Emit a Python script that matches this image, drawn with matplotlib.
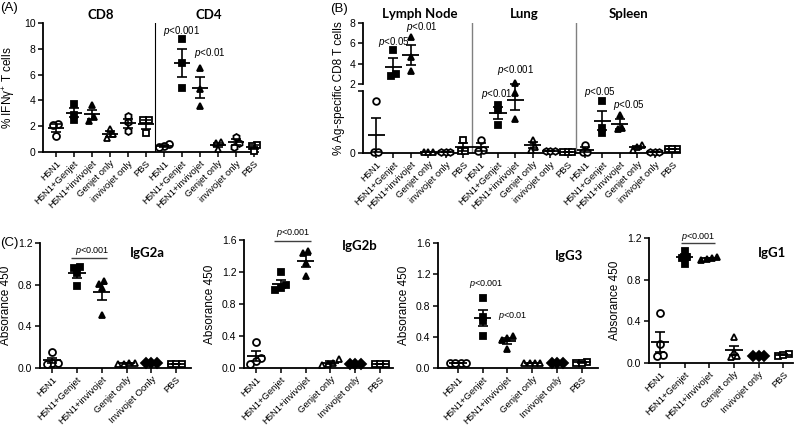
import numpy as np
import matplotlib
matplotlib.use("Agg")
import matplotlib.pyplot as plt

plt.rcParams['font.family'] = ['Liberation Sans', 'DejaVu Sans']
plt.rcParams['mathtext.fontset'] = 'custom'
plt.rcParams['mathtext.rm'] = 'Liberation Sans'
plt.rcParams['mathtext.it'] = 'Liberation Sans:italic'

# ---- data ----
groups = ["H5N1", "H5N1+Genjet", "H5N1+invivojet", "Genjet only", "invivojet only", "PBS"]

# (A) % IFNg+ T cells
cd8 = [[2.2, 2.1, 1.25], [3.75, 2.9, 2.5], [3.65, 2.7, 2.4],
       [1.75, 1.4, 1.05], [2.8, 2.3, 1.6], [2.5, 2.45, 1.45]]
cd4 = [[0.6, 0.45, 0.35], [8.76, 6.9, 4.96], [6.5, 4.9, 3.6],
       [0.75, 0.7, 0.25], [1.2, 0.7, 0.4], [0.55, 0.5, 0.1]]

# (B) % Ag-specific CD8 T cells (broken axis, break at 2)
lymph = [[1.68, 0.02, 0.02], [5.34, 2.81, 2.95], [6.6, 4.7, 3.25],
         [0.02, 0.02, 0.02], [0.03, 0.03, 0.03], [0.43, 0.08, 0.08]]
lung = [[0.43, 0.1, 0.05], [1.55, 1.39, 0.91], [2.1, 1.94, 1.1],
        [0.43, 0.2, 0.1], [0.05, 0.05, 0.05], [0.03, 0.03, 0.03]]
spleen = [[0.27, 0.02, 0.02], [1.67, 0.81, 0.65], [1.24, 0.8, 0.78],
          [0.27, 0.19, 0.1], [0.02, 0.02, 0.02], [0.13, 0.12, 0.12]]

# (C) absorbance 450
igg2a = [[0.15, 0.05, 0.05, 0.04], [0.97, 0.96, 0.91, 0.79], [0.84, 0.81, 0.77, 0.51],
         [0.05, 0.045, 0.04, 0.04], [0.045, 0.045, 0.045], [0.04, 0.04, 0.04]]
igg2b = [[0.32, 0.13, 0.09, 0.05], [1.2, 1.04, 1.0, 0.97], [1.46, 1.44, 1.31, 1.15],
         [0.11, 0.065, 0.05, 0.04], [0.05, 0.05, 0.05], [0.05, 0.05, 0.05]]
igg3 = [[0.07, 0.06, 0.07, 0.06], [0.9, 0.65, 0.6, 0.41], [0.41, 0.385, 0.36, 0.24],
        [0.07, 0.065, 0.07, 0.06], [0.065, 0.065, 0.065], [0.08, 0.07, 0.07]]
igg1 = [[0.48, 0.18, 0.075, 0.07], [1.08, 1.02, 1.01, 0.955], [1.01, 1.0, 1.02, 0.99],
        [0.25, 0.11, 0.07, 0.06], [0.07, 0.07, 0.07], [0.09, 0.07, 0.08]]

labels_2a = ["H5N1", "H5N1+Genjet", "H5N1+invivojet", "Genjet only", "Invivojet Oonly", "PBS"]
labels_c = ["H5N1", "H5N1+Genjet", "H5N1+invivojet", "Genjet only", "Invivojet only", "PBS"]

markers_ab = ['o', 's', '^', '^', 'h', 's']
filled_ab = [False, True, True, False, False, False]
markers_c = ['o', 's', '^', '^', 'D', 's']
filled_c = [False, True, True, False, True, False]


def rect(l, t, r, b):
    return [l / 797, 1 - b / 430, (r - l) / 797, (b - t) / 430]


def style(ax):
    for s in ['top', 'right']:
        ax.spines[s].set_visible(False)
    for s in ['left', 'bottom']:
        ax.spines[s].set_linewidth(1.3)
    ax.tick_params(width=1.1, length=3.5, labelsize=7.5, direction='out', pad=2)
    ax.tick_params(axis='x', labelsize=6.8, pad=1.5)


def spread(vals, tol, step):
    # push apart points that would sit on top of each other
    order = np.argsort(vals)
    offs = np.zeros(len(vals))
    clusters = []
    for i in order:
        if clusters and vals[i] - vals[clusters[-1][-1]] < tol:
            clusters[-1].append(i)
        else:
            clusters.append([i])
    for c in clusters:
        k = len(c)
        offs[c] = (np.arange(k) - (k - 1) / 2) * step
    return offs


def plot_group(ax, x, vals, marker, filled, half, tol, step, tf=None, ms=5):
    vals = np.asarray(vals, float)
    yy = tf(vals) if tf else vals
    offs = spread(yy, tol, step)
    ax.plot(x + offs, vals, ls='none', marker=marker, ms=ms,
            mfc='k' if filled else 'white', mec='k', mew=1.3,
            clip_on=False, zorder=3)
    m = vals.mean()
    s = vals.std(ddof=1) / np.sqrt(len(vals))
    ax.hlines(m, x - half, x + half, color='k', lw=1.3, zorder=4)
    ax.errorbar(x, m, yerr=s, fmt='none', ecolor='k', elinewidth=1.2,
                capsize=3.5, capthick=1.2, zorder=4)


def ptext(ax, x, y, s):
    ax.text(x, y, "$p$" + s, ha='center', va='center', fontsize=7)


fig = plt.figure(figsize=(7.97, 4.30), dpi=100)

# ---------------- (A) ----------------
axA = fig.add_axes(rect(43, 23, 258, 152))
style(axA)
for i, vals in enumerate(cd8 + cd4):
    plot_group(axA, i, vals, markers_ab[i % 6], filled_ab[i % 6], 0.46, 0.35, 0.28)
axA.axvline(5.5, color='k', lw=0.8)
axA.set_xlim(-0.72, 11.22)
axA.set_ylim(0, 10)
axA.set_yticks([0, 2, 4, 6, 8, 10])
axA.set_xticks(range(12))
axA.set_xticklabels(groups * 2, rotation=45, ha='right', rotation_mode='anchor')
axA.set_ylabel("% IFNγ$^{+}$ T cells", fontsize=8.5, labelpad=5)
axA.text(2.5, 10.6, "CD8", ha='center', va='center', fontsize=9.5,
         fontweight='bold', family='Lato')
axA.text(8.5, 10.6, "CD4", ha='center', va='center', fontsize=9.5,
         fontweight='bold', family='Lato')
ptext(axA, 7, 9.4, "<0.001")
ptext(axA, 8.55, 7.65, "<0.01")

# ---------------- (B) ----------------
LOW, GAP, UP = 31.0, 7.0, 10.17


def fwd(v):
    v = np.asarray(v, float)
    return np.where(v < 2, v * LOW, 2 * LOW + GAP + (v - 2) * UP)


def inv(y):
    y = np.asarray(y, float)
    return np.where(y < 2 * LOW, y / LOW,
                    np.where(y < 2 * LOW + GAP, 2.0, 2 + (y - 2 * LOW - GAP) / UP))


axB = fig.add_axes(rect(363, 23, 680, 153))
style(axB)
axB.set_yscale('function', functions=(fwd, inv))
for i, vals in enumerate(lymph + lung + spleen):
    plot_group(axB, i, vals, markers_ab[i % 6], filled_ab[i % 6], 0.49, 4.0, 0.26,
               tf=fwd, ms=4.8)
axB.axvline(5.5, color='#808080', lw=1.0)
axB.axvline(11.5, color='#808080', lw=1.0)
axB.set_xlim(-0.75, 17.45)
axB.set_ylim(0, 8)
axB.set_yticks([0, 2, 4, 6, 8])
axB.set_yticklabels(['0', '2', '4', '6', '8'])
axB.set_yticks([1.995], minor=True)
axB.tick_params(axis='y', which='minor', width=1.1, length=3.5)
axB.spines['left'].set_visible(False)
axB.plot([0, 0], [0, 1.995], color='k', lw=1.3, clip_on=False,
         transform=axB.get_yaxis_transform())
axB.plot([0, 0], [2, 8], color='k', lw=1.3, clip_on=False,
         transform=axB.get_yaxis_transform())
axB.set_xticks(range(18))
axB.set_xticklabels(groups * 3, rotation=45, ha='right', rotation_mode='anchor')
axB.set_ylabel("% Ag-specific CD8 T cells", fontsize=8.5, labelpad=3)
for xc, name in zip([2.5, 8.5, 14.5], ["Lymph Node", "Lung", "Spleen"]):
    axB.text(xc, 8.9, name, ha='center', va='center', fontsize=9.5,
             fontweight='bold', family='Lato')
ptext(axB, 1.0, 6.1, "<0.05")
ptext(axB, 2.65, 7.6, "<0.01")
ptext(axB, 6.95, 1.9, "<0.01")
ptext(axB, 8.0, 3.4, "<0.001")
ptext(axB, 12.85, 1.98, "<0.05")
ptext(axB, 14.5, 1.55, "<0.05")

# ---------------- (C) ----------------
panels_c = [
    (igg2a, labels_2a, (40, 243, 191, 368), (-0.49, 5.6), 1.2, "IgG2a", (3.85, 1.10),
     [("<0.001", 1.6, 1.126)], (0.76, 2.2, 1.055)),
    (igg2b, labels_c, (244, 240, 393, 368), (-0.48, 5.52), 1.6, "IgG2b", (4.2, 1.53),
     [("<0.001", 1.49, 1.69)], (0.73, 2.22, 1.59)),
    (igg3, labels_c, (438, 243, 598, 368), (-0.8, 5.65), 1.6, "IgG3", (4.5, 1.43),
     [("<0.001", 1.13, 1.08), ("<0.01", 2.2, 0.67)], None),
    (igg1, labels_c, (649, 238, 793, 363), (-0.45, 5.4), 1.2, "IgG1", (4.55, 1.06),
     [("<0.001", 1.55, 1.21)], (0.85, 2.24, 1.15)),
]

for data, labs, r, xl, ytop, title, tpos, ptexts, bar in panels_c:
    ax = fig.add_axes(rect(*r))
    style(ax)
    for i, vals in enumerate(data):
        plot_group(ax, i, vals, markers_c[i], filled_c[i], 0.35, ytop * 0.03, 0.22)
    ax.set_xlim(*xl)
    ax.set_ylim(0, ytop)
    ax.set_yticks(np.arange(0, ytop + 0.01, 0.4))
    ax.set_yticklabels(["%.1f" % t for t in np.arange(0, ytop + 0.01, 0.4)])
    ax.set_xticks(range(6))
    ax.set_xticklabels(labs, rotation=45, ha='right', rotation_mode='anchor')
    ax.set_ylabel("Absorance 450", fontsize=8.5, labelpad=4)
    ax.text(tpos[0], tpos[1], title, ha='center', va='center', fontsize=9.5,
            fontweight='bold', family='Lato')
    for s, px, py in ptexts:
        ax.text(px, py, "$p$" + s, ha='center', va='center', fontsize=6.5)
    if bar:
        ax.hlines(bar[2], bar[0], bar[1], color='#404040', lw=1.0, clip_on=False)

fig.text(0.0, 1 - 8 / 430, "(A)", fontsize=9.5, va='center', ha='left')
fig.text(330 / 797, 1 - 9 / 430, "(B)", fontsize=9.5, va='center', ha='left')
fig.text(0.0, 1 - 243 / 430, "(C)", fontsize=9.5, va='center', ha='left')

fig.savefig("out.png", dpi=100)
